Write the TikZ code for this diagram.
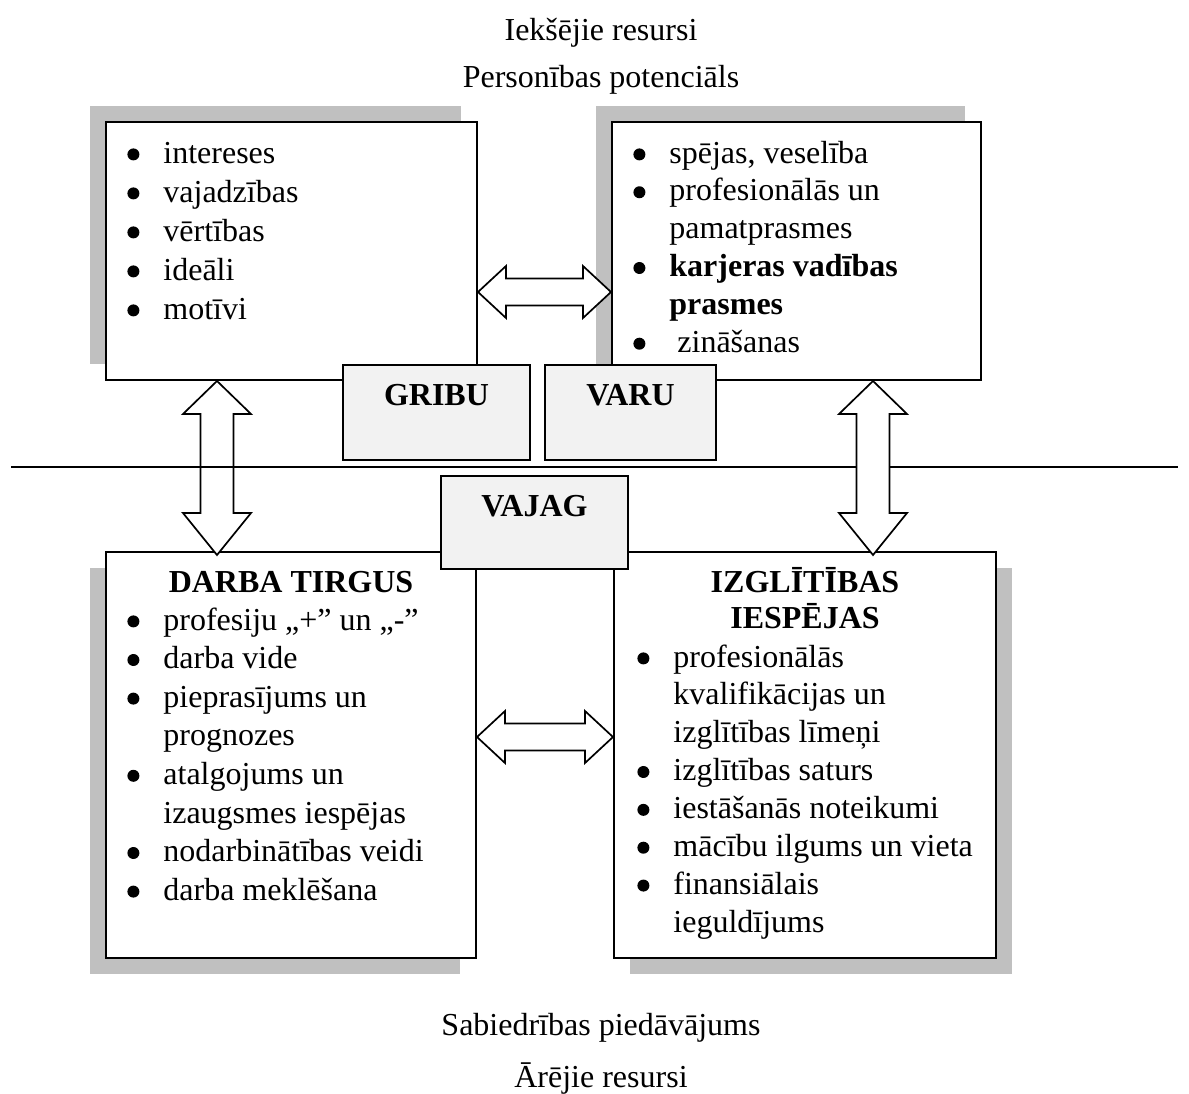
\documentclass[tikz,border=0pt]{standalone}
\usepackage{fontspec}
\setmainfont{Liberation Serif}
\usetikzlibrary{calc,shadows}

\definecolor{shadowgray}{RGB}{192,192,192}
\definecolor{keyfill}{RGB}{242,242,242}

% list bullet and the indent of a wrapped list line
\newcommand\bul{\makebox[18pt][l]{\raisebox{1.3pt}{\tikz\fill (0,0) circle (3pt);}}}
\newcommand\lind{\hspace*{18pt}}

% horizontal double block arrow between two points (left, right)
\newcommand\hdblarrow[3][]{%
  \draw[blockarrow,#1] let \p1=(#2), \p2=(#3) in
    (\p1) -- (\x1+14pt,\y1+13pt) -- (\x1+14pt,\y1+6.75pt) -- (\x2-14pt,\y2+6.75pt)
    -- (\x2-14pt,\y2+13pt) -- (\p2) -- (\x2-14pt,\y2-13pt) -- (\x2-14pt,\y2-6.75pt)
    -- (\x1+14pt,\y1-6.75pt) -- (\x1+14pt,\y1-13pt) -- cycle;}

% vertical double block arrow between two points (top, bottom)
\newcommand\vdblarrow[3][]{%
  \draw[blockarrow,#1] let \p1=(#2), \p2=(#3) in
    (\p1) -- (\x1+17pt,\y1-16.5pt) -- (\x1+8.25pt,\y1-16.5pt) -- (\x2+8.25pt,\y2+21pt)
    -- (\x2+17pt,\y2+21pt) -- (\p2) -- (\x2-17pt,\y2+21pt) -- (\x2-8.25pt,\y2+21pt)
    -- (\x1-8.25pt,\y1-16.5pt) -- (\x1-17pt,\y1-16.5pt) -- cycle;}

\begin{document}
\begin{tikzpicture}[x=0.5pt,y=-0.5pt,
  font=\fontsize{16}{19.2}\selectfont,
  panel/.style={draw, line width=1pt, fill=white, rectangle, inner sep=0pt, anchor=north west},
  keybox/.style={draw, line width=1pt, fill=keyfill, rectangle, inner sep=0pt, anchor=north west},
  shadowNW/.style={drop shadow={shadow xshift=-8pt, shadow yshift=8pt, fill=shadowgray, opacity=1}},
  shadowSW/.style={drop shadow={shadow xshift=-8pt, shadow yshift=-8pt, fill=shadowgray, opacity=1}},
  shadowSE/.style={drop shadow={shadow xshift=8pt, shadow yshift=-8pt, fill=shadowgray, opacity=1}},
  listtext/.style={anchor=base west, inner sep=0pt},
  caption/.style={anchor=base, inner sep=0pt},
  keytext/.style={anchor=base, inner sep=0pt, font=\fontsize{16}{19.2}\selectfont\bfseries},
  blockarrow/.style={draw, line width=0.85pt, line join=miter, fill=white},
  divider/.style={line width=0.75pt}]

\useasboundingbox (0,0) rectangle (1189,1093);

% headings above and below
\node[caption] (inner)  at (601,40)   {Iekšējie resursi};
\node[caption] (person) at (601,87)   {Personības potenciāls};
\node[caption] (offer)  at (601,1035) {Sabiedrības piedāvājums};
\node[caption] (outer)  at (601,1087) {Ārējie resursi};

% upper panels
\node[panel, shadowNW, minimum width=185.5pt, minimum height=129pt] (tl) at (105,121) {};
\node[panel, shadowNW, minimum width=184.5pt, minimum height=129pt] (tr) at (611,121) {};

\node[listtext] (tltext) at (127,163) {\fontsize{16}{19.5}\selectfont
  \begin{tabular}[t]{@{}l@{}}
  \bul intereses\\
  \bul vajadzības\\
  \bul vērtības\\
  \bul ideāli\\
  \bul motīvi
  \end{tabular}};

\node[listtext] (trtext) at (633,163) {\fontsize{16}{18.93}\selectfont
  \begin{tabular}[t]{@{}l@{}}
  \bul spējas, veselība\\
  \bul profesionālās un\\
  \lind pamatprasmes\\
  \bul\textbf{karjeras vadības}\\
  \lind\textbf{prasmes}\\
  \bul\ zināšanas
  \end{tabular}};

% key words
\node[keybox, minimum width=93.5pt, minimum height=47.5pt] (gribu) at (342,364) {};
\node[keybox, minimum width=85.5pt, minimum height=47.5pt] (varu)  at (544,364) {};
\node[keytext] (gributext) at ($(gribu.north)+(0,41)$) {GRIBU};
\node[keytext] (varutext)  at ($(varu.north)+(0,41)$)  {VARU};

% lower panels
\node[panel, shadowSW, minimum width=185pt, minimum height=203pt] (bl) at (105,551) {};
\node[panel, shadowSE, minimum width=191pt, minimum height=203pt] (br) at (613,551) {};

\node[keytext] (blhead)  at (bl.north |- 0,592) {DARBA TIRGUS};
\node[keytext] (brhead1) at (br.north |- 0,592) {IZGLĪTĪBAS};
\node[keytext] (brhead2) at (br.north |- 0,628) {IESPĒJAS};

\node[listtext] (bltext) at (127,630) {\fontsize{16}{19.3}\selectfont
  \begin{tabular}[t]{@{}l@{}}
  \bul profesiju „+” un „-”\\
  \bul darba vide\\
  \bul pieprasījums un\\
  \lind prognozes\\
  \bul atalgojums un\\
  \lind izaugsmes iespējas\\
  \bul nodarbinātības veidi\\
  \bul darba meklēšana
  \end{tabular}};

\node[listtext] (brtext) at (637,667) {\fontsize{16}{18.93}\selectfont
  \begin{tabular}[t]{@{}l@{}}
  \bul profesionālās\\
  \lind kvalifikācijas un\\
  \lind izglītības līmeņi\\
  \bul izglītības saturs\\
  \bul iestāšanās noteikumi\\
  \bul mācību ilgums un vieta\\
  \bul finansiālais\\
  \lind ieguldījums
  \end{tabular}};

\node[keybox, minimum width=93.5pt, minimum height=46.5pt] (vajag) at (440,475) {};
\node[keytext] (vajagtext) at ($(vajag.north)+(0,41)$) {VAJAG};

% connecting block arrows
\coordinate (hTopL) at (tl.east |- 0,292);
\coordinate (hTopR) at (tr.west |- 0,292);
\coordinate (hBotL) at (bl.east |- 0,737);
\coordinate (hBotR) at (br.west |- 0,737);
\coordinate (vLeftT)  at (tl.south -| 217,0);
\coordinate (vLeftB)  at ($(bl.north -| 217,0)+(0,4)$);
\coordinate (vRightT) at (tr.south -| 873,0);
\coordinate (vRightB) at ($(br.north -| 873,0)+(0,4)$);

\hdblarrow{hTopL}{hTopR}
\hdblarrow{hBotL}{hBotR}
\vdblarrow{vLeftT}{vLeftB}

% boundary between inner and outer resources
\coordinate (divL) at (11,467);
\coordinate (divR) at (1178,467);
\draw[divider] (divL) -- (divR);

\vdblarrow{vRightT}{vRightB}

\end{tikzpicture}
\end{document}
